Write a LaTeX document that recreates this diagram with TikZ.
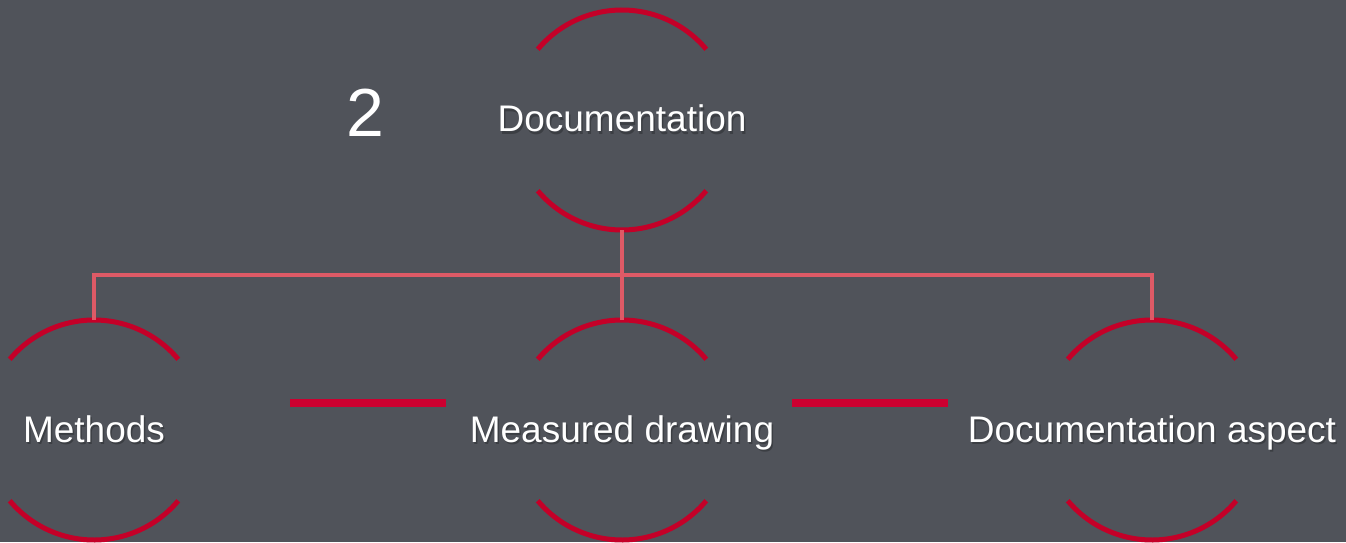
\documentclass[tikz,border=0pt]{standalone}
\usepackage{fontspec}
\setmainfont{Liberation Sans}
\begin{document}
\begin{tikzpicture}[x=1pt,y=1pt,
  arcline/.style={draw=arcred,line width=5pt},
  conn/.style={draw=connred,line width=4pt},
  bar/.style={draw=barred,line width=8pt},
  ring/.style={circle,minimum size=220pt,inner sep=0pt},
  lbl/.style={text=white,anchor=base,inner sep=0pt,font=\fontsize{37}{44}\selectfont},
  shadowtxt/.style={text=black,opacity=0.25,anchor=base,inner sep=0pt,font=\fontsize{37}{44}\selectfont}]
\definecolor{bg}{RGB}{80,83,90}
\definecolor{arcred}{RGB}{196,0,40}
\definecolor{connred}{RGB}{222,90,102}
\definecolor{barred}{RGB}{204,0,48}
\fill[bg] (0,0) rectangle (1346,542);
\useasboundingbox (0,0) rectangle (1346,542);
% ring nodes
\node[ring] (top) at (622,422) {};
\node[ring] (m) at (94,112) {};
\node[ring] (md) at (622,112) {};
\node[ring] (da) at (1152,112) {};
% arcs
\foreach \n in {top,m,md,da}{
  \draw[arcline] ([shift={(40:110)}]\n.center) arc[start angle=40,end angle=140,radius=110];
  \draw[arcline] ([shift={(220:110)}]\n.center) arc[start angle=220,end angle=320,radius=110];
}
% connectors
\coordinate (j) at (622,267);
\draw[conn] (top.south) -- (j);
\draw[conn] (m.north) |- (j);
\draw[conn] (da.north) |- (j);
\draw[conn] (j) -- (md.north);
% bars
\coordinate (b1a) at (290,139); \coordinate (b1b) at (446,139);
\coordinate (b2a) at (792,139); \coordinate (b2b) at (948,139);
\draw[bar] (b1a) -- (b1b);
\draw[bar] (b2a) -- (b2b);
% texts with shadow
\foreach \n/\t in {top/Documentation,m/Methods,md/Measured drawing,da/Documentation aspect}{
  \node[shadowtxt] at ([shift={(1.5,-14.5)}]\n.center) {\t};
  \node[lbl] (\n-t) at ([shift={(0,-12)}]\n.center) {\t};
}
\node[text=white,anchor=base,inner sep=0pt,font=\fontsize{68}{80}\selectfont] (num) at (365,405) {2};
\end{tikzpicture}
\end{document}
